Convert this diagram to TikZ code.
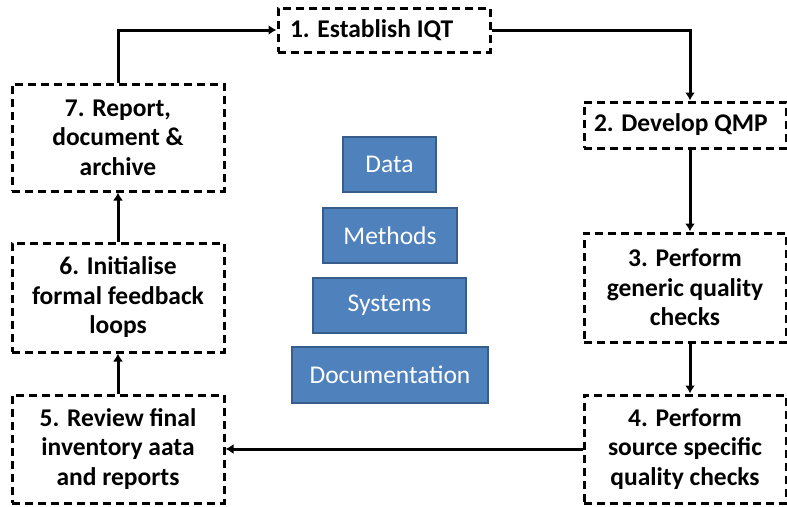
\documentclass[tikz,border=0pt]{standalone}
\usepackage{fontspec}
\setmainfont{Carlito}
\usetikzlibrary{arrows.meta,calc}
\definecolor{pillarfill}{HTML}{4F81BD}
\definecolor{pillarline}{HTML}{385D8A}
\tikzset{
  stepbox/.style={draw=black, line width=3pt, dash pattern=on 8pt off 5pt,
    fill=white, align=center, font=\fontsize{25.5}{29.5}\selectfont\bfseries,
    inner sep=0pt},
  pillar/.style={draw=pillarline, line width=2pt, fill=pillarfill,
    text=white, font=\fontsize{25.5}{28}\selectfont, inner sep=0pt},
  flow/.style={line width=3pt, -{Latex[length=8pt,width=10pt]}}
}
\begin{document}
\begin{tikzpicture}[x=1pt,y=-1pt]
\useasboundingbox (0,0) rectangle (787,506);
% process steps
\node[stepbox, align=flush left, inner xsep=12pt, text width=188pt, minimum height=44pt] (b1) at (384,30) {1. Establish IQT};
\node[stepbox, align=flush left, inner xsep=10pt, text width=182pt, minimum height=46pt] (b2) at (685,125) {2. Develop QMP};
\node[stepbox, minimum width=202pt, minimum height=109pt] (b3) at (685,287.5) {3. Perform\\generic quality\\checks};
\node[stepbox, minimum width=202pt, minimum height=108pt] (b4) at (685,449) {4. Perform\\source specific\\quality checks};
\node[stepbox, minimum width=212pt, minimum height=108pt] (b5) at (118,449) {5. Review final\\inventory aata\\and reports};
\node[stepbox, minimum width=212pt, minimum height=109pt] (b6) at (118,297.5) {6. Initialise\\formal feedback\\loops};
\node[stepbox, minimum width=212pt, minimum height=107pt] (b7) at (118,137.5) {7. Report,\\document \&\\archive};
% central pillars
\node[pillar, minimum width=93pt, minimum height=55pt] (p1) at (389.5,164.5) {Data};
\node[pillar, minimum width=134pt, minimum height=55pt] (p2) at (390,235.5) {Methods};
\node[pillar, minimum width=153pt, minimum height=55pt] (p3) at (389.5,305.5) {Systems};
\node[pillar, minimum width=196pt, minimum height=56pt] (p4) at (390,375) {Documentation};
% connectors
\coordinate (colx) at (690,0);
\draw[flow] (b7.north) |- (b1.west);
\draw[flow] (b1.east) -| (b2.north -| colx);
\draw[flow] (b2.south -| colx) -- (b3.north -| colx);
\draw[flow] (b3.south -| colx) -- (b4.north -| colx);
\draw[flow] (b4.west) -- (b5.east);
\draw[flow] (b5.north) -- (b6.south);
\draw[flow] (b6.north) -- (b7.south);
\end{tikzpicture}
\end{document}
